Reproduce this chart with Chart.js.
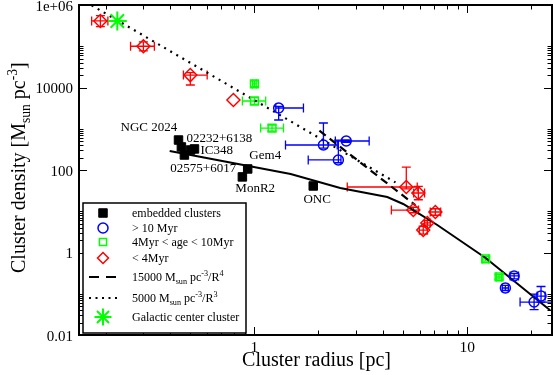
<!DOCTYPE html>
<html>
<head>
<meta charset="utf-8">
<script src="https://cdn.jsdelivr.net/npm/chart.js@4.4.1/dist/chart.umd.min.js"></script>
<style>
  html, body { margin: 0; padding: 0; background: #fff; }
  #wrap { width: 553px; height: 375px; }
</style>
</head>
<body>
<div id="wrap"><canvas id="c" width="553" height="375"></canvas></div>
<script>
// embedded clusters
const embR = [0.44, 0.454, 0.469, 0.501, 0.523, 0.93, 0.878, 1.89];
const embRho = [533, 362, 231, 305, 324, 106, 68, 41];

// > 10 Myr
const oldR = [1.30, 2.11, 2.70, 2.48, 16.6, 15.1, 22.2, 20.6];
const oldRho = [3180, 404, 505, 175, 0.27, 0.138, 0.088, 0.063];
const oldRLo = [1.26, 1.40, 2.40, 1.79, 15.9, 14.6, 21.3, 17.7];
const oldRHi = [1.70, 2.45, 3.46, 2.55, 17.4, 15.6, 23.2, 25];
const oldRhoLo = [1630, 340, 470, 150, 0.23, 0.12, 0.063, 0.041];
const oldRhoHi = [3500, 1380, 540, 530, 0.31, 0.16, 0.15, 0.098];

// 4 Myr < age < 10 Myr
const midR = [1.0, 1.0, 1.21, 12.2, 14.1];
const midRho = [12200, 4710, 1040, 0.70, 0.255];
const midRLo = [0.98, 0.878, 1.07, 11.8, 13.7];
const midRHi = [1.02, 1.13, 1.37, 12.6, 14.5];
const midRhoLo = [10500, 3900, 880, 0.62, 0.225];
const midRhoHi = [14500, 5700, 1230, 0.80, 0.29];

// < 4 Myr
const youngR = [0.189, 0.301, 0.50, 0.797, 5.17, 5.89, 5.58, 7.08, 6.49, 6.21];
const youngRho = [4.1e5, 1.0e5, 2.0e4, 4980, 38.7, 27.7, 10.7, 9.6, 5.2, 3.5];
const youngRLo = [0.172, 0.262, 0.464, null, 2.73, 5.6, 4.4, 6.7, 6.3, 5.95];
const youngRHi = [0.205, 0.339, 0.60, null, 5.82, 6.3, 5.9, 7.5, 6.7, 6.5];
const youngRhoLo = [3.0e5, 7.7e4, 1.15e4, null, 35, 19, 9.2, 8.0, 4.6, 2.8];
const youngRhoHi = [5.5e5, 1.27e5, 2.3e4, null, 118, 40, 12.5, 11.5, 5.9, 4.3];

// galactic center cluster
const gcR = [0.227];
const gcRho = [4.1e5];

// curves
const fitR = [0.40, 1.48, 2.53, 4.21, 5.0, 5.58, 7.23, 12.2, 24.5];
const fitRho = [289, 80, 36.6, 22.1, 15, 10.7, 4.64, 0.736, 0.040];
const r4R = [2.02, 5.7];
const r4Rho = [900, 14];
const r3R = [0.172, 4.6];
const r3Rho = [9.8e5, 50];

// cluster names
const nameText = ['NGC 2024', '02232+6138', 'IC348', '02575+6017', 'Gem4', 'MonR2', 'ONC'];
const nameR = [0.235, 0.48, 0.558, 0.403, 0.947, 0.814, 1.70];
const nameRho = [880, 478, 244, 89.5, 185, 29.3, 15.8];

// axis ticks
const xMajor = [1, 10];
const xMinor = [0.2, 0.3, 0.4, 0.5, 0.6, 0.7, 0.8, 0.9, 2, 3, 4, 5, 6, 7, 8, 9, 20];
const yMajor = [0.01, 1, 100, 10000, 1e6];
const yMinor = [0.02, 0.03, 0.04, 0.05, 0.06, 0.07, 0.08, 0.09, 0.1,
                2, 3, 4, 5, 6, 7, 8, 9, 10,
                200, 300, 400, 500, 600, 700, 800, 900, 1000,
                2e4, 3e4, 4e4, 5e4, 6e4, 7e4, 8e4, 9e4, 1e5];
const yLabels = ['0.01', '1', '100', '10000', '1e+06'];

const SERIF = '"Liberation Serif", "DejaVu Serif", serif';
const RED = '#ff0000', BLUE = '#0000ff', GREEN = '#00ff00';

const pts = (xs, ys) => xs.map((v, i) => ({ x: v, y: ys[i] }));

// rich text: parts [{t, s}] where s = 'sub' | 'sup' | undefined
function drawRich(ctx, parts, x, y, size) {
    let cx = x;
    parts.forEach(p => {
        const small = p.s ? size * 0.68 : size;
        const dy = p.s === 'sub' ? size * 0.25 : p.s === 'sup' ? -size * 0.42 : 0;
        ctx.font = `${small}px ${SERIF}`;
        ctx.fillText(p.t, cx, y + dy);
        cx += ctx.measureText(p.t).width;
    });
    return cx - x;
}
function richWidth(ctx, parts, size) {
    let w = 0;
    parts.forEach(p => {
        ctx.font = `${p.s ? size * 0.68 : size}px ${SERIF}`;
        w += ctx.measureText(p.t).width;
    });
    return w;
}

const errorBars = {
    id: 'errorBars',
    beforeDatasetsDraw(chart) {
        const { ctx, chartArea: a, scales: { x, y } } = chart;
        ctx.save();
        ctx.beginPath();
        ctx.rect(a.left, a.top, a.width, a.height);
        ctx.clip();
        chart.data.datasets.forEach(ds => {
            if (!ds.errors) return;
            const e = ds.errors;
            ctx.strokeStyle = ds.borderColor;
            ctx.lineWidth = 1.3;
            const cap = 4.5;
            ds.data.forEach((d, i) => {
                const px = x.getPixelForValue(d.x), py = y.getPixelForValue(d.y);
                ctx.beginPath();
                if (e.xLo[i] != null) {
                    const l = x.getPixelForValue(e.xLo[i]), r = x.getPixelForValue(e.xHi[i]);
                    ctx.moveTo(l, py); ctx.lineTo(r, py);
                    ctx.moveTo(l, py - cap); ctx.lineTo(l, py + cap);
                    ctx.moveTo(r, py - cap); ctx.lineTo(r, py + cap);
                }
                if (e.yLo[i] != null) {
                    const b = y.getPixelForValue(e.yLo[i]), t = y.getPixelForValue(e.yHi[i]);
                    ctx.moveTo(px, b); ctx.lineTo(px, t);
                    ctx.moveTo(px - cap, b); ctx.lineTo(px + cap, b);
                    ctx.moveTo(px - cap, t); ctx.lineTo(px + cap, t);
                }
                ctx.stroke();
            });
        });
        ctx.restore();
    }
};

const frame = {
    id: 'frame',
    afterDatasetsDraw(chart) {
        const { ctx, chartArea: a, scales: { x, y } } = chart;
        ctx.save();
        ctx.strokeStyle = '#000';
        ctx.lineWidth = 1;
        const seg = (x1, y1, x2, y2) => { ctx.beginPath(); ctx.moveTo(x1, y1); ctx.lineTo(x2, y2); ctx.stroke(); };
        const xt = (v, len) => {
            const p = Math.round(x.getPixelForValue(v)) + 0.5;
            seg(p, a.bottom, p, a.bottom - len);
            seg(p, a.top, p, a.top + len);
        };
        const yt = (v, len) => {
            const p = Math.round(y.getPixelForValue(v)) + 0.5;
            seg(a.left, p, a.left + len, p);
            seg(a.right, p, a.right - len, p);
        };
        xMajor.forEach(v => xt(v, 8));
        xMinor.forEach(v => xt(v, 4.5));
        yMajor.forEach(v => yt(v, 8));
        yMinor.forEach(v => yt(v, 4.5));
        ctx.lineWidth = 2;
        ctx.strokeRect(a.left, a.top, a.width, a.height);

        // cluster names
        ctx.fillStyle = '#000';
        ctx.font = `13px ${SERIF}`;
        ctx.textBaseline = 'alphabetic';
        nameText.forEach((t, i) => {
            ctx.fillText(t, x.getPixelForValue(nameR[i]), y.getPixelForValue(nameRho[i]));
        });

        // axis titles
        const xt1 = [{ t: 'Cluster radius [pc]' }];
        ctx.textAlign = 'left';
        const wx = richWidth(ctx, xt1, 20);
        drawRich(ctx, xt1, (a.left + a.right) / 2 - wx / 2 + 1, 366, 20);

        const yt1 = [{ t: 'Cluster density [M' }, { t: 'sun', s: 'sub' }, { t: ' pc' }, { t: '-3', s: 'sup' }, { t: ']' }];
        ctx.save();
        ctx.translate(25, 273);
        ctx.rotate(-Math.PI / 2);
        drawRich(ctx, yt1, 0, 0, 20);
        ctx.restore();
        ctx.restore();
    },
    afterDraw(chart) {
        const { ctx } = chart;
        ctx.save();
        // legend box
        const L = 83, T = 203, R = 246, B = 333;
        ctx.fillStyle = '#fff';
        ctx.fillRect(L, T, R - L, B - T);
        ctx.strokeStyle = '#000';
        ctx.lineWidth = 1.5;
        ctx.strokeRect(L, T, R - L, B - T);

        const sx = 103, tx = 132;
        const rows = [213, 228, 242, 258, 277, 298, 317];
        const H = Chart.helpers;
        const mark = (style, r, stroke, fill, yy, bw) => {
            ctx.strokeStyle = stroke;
            ctx.fillStyle = fill;
            ctx.lineWidth = bw;
            H.drawPoint(ctx, { pointStyle: style, radius: r, rotation: 0, borderWidth: bw }, sx, yy);
        };
        mark('rect', 6, '#000', '#000', rows[0], 1);
        mark('circle', 5, BLUE, 'rgba(0,0,0,0)', rows[1], 1.5);
        mark('rect', 5, GREEN, 'rgba(0,0,0,0)', rows[2], 1.5);
        mark('rectRot', 5.5, RED, 'rgba(0,0,0,0)', rows[3], 1.5);
        mark('star', 8.5, GREEN, 'rgba(0,0,0,0)', rows[6], 2);

        ctx.strokeStyle = '#000';
        ctx.lineWidth = 2;
        ctx.setLineDash([10, 7]);
        ctx.beginPath(); ctx.moveTo(89, rows[4]); ctx.lineTo(118, rows[4]); ctx.stroke();
        ctx.setLineDash([2, 4.5]);
        ctx.beginPath(); ctx.moveTo(89, rows[5]); ctx.lineTo(118, rows[5]); ctx.stroke();
        ctx.setLineDash([]);

        ctx.fillStyle = '#000';
        ctx.textAlign = 'left';
        ctx.textBaseline = 'alphabetic';
        const texts = [
            [{ t: 'embedded clusters' }],
            [{ t: '> 10 Myr' }],
            [{ t: '4Myr < age < 10Myr' }],
            [{ t: '< 4Myr' }],
            [{ t: '15000 M' }, { t: 'sun', s: 'sub' }, { t: ' pc' }, { t: '-3', s: 'sup' }, { t: '/R' }, { t: '4', s: 'sup' }],
            [{ t: '5000 M' }, { t: 'sun', s: 'sub' }, { t: ' pc' }, { t: '-3', s: 'sup' }, { t: '/R' }, { t: '3', s: 'sup' }],
            [{ t: 'Galactic center cluster' }]
        ];
        texts.forEach((parts, i) => drawRich(ctx, parts, tx, rows[i] + 4, 12));
        ctx.restore();
    }
};

new Chart(document.getElementById('c'), {
    type: 'scatter',
    data: {
        datasets: [
            { label: 'embedded clusters', data: pts(embR, embRho), pointStyle: 'rect', radius: 6,
              backgroundColor: '#000', borderColor: '#000', borderWidth: 1 },
            { label: '> 10 Myr', data: pts(oldR, oldRho), pointStyle: 'circle', radius: 5,
              backgroundColor: 'rgba(0,0,0,0)', borderColor: BLUE, borderWidth: 1.5,
              errors: { xLo: oldRLo, xHi: oldRHi, yLo: oldRhoLo, yHi: oldRhoHi } },
            { label: '4Myr < age < 10Myr', data: pts(midR, midRho), pointStyle: 'rect', radius: 5.5,
              backgroundColor: 'rgba(0,0,0,0)', borderColor: GREEN, borderWidth: 1.5,
              errors: { xLo: midRLo, xHi: midRHi, yLo: midRhoLo, yHi: midRhoHi } },
            { label: '< 4Myr', data: pts(youngR, youngRho), pointStyle: 'rectRot', radius: 6.5,
              backgroundColor: 'rgba(0,0,0,0)', borderColor: RED, borderWidth: 1.5,
              errors: { xLo: youngRLo, xHi: youngRHi, yLo: youngRhoLo, yHi: youngRhoHi } },
            { label: 'Galactic center cluster', data: pts(gcR, gcRho), pointStyle: 'star', radius: 9.5,
              backgroundColor: 'rgba(0,0,0,0)', borderColor: GREEN, borderWidth: 2 },
            { label: 'fit', data: pts(fitR, fitRho), showLine: true, pointRadius: 0,
              borderColor: '#000', borderWidth: 2 },
            { label: 'R^-4', data: pts(r4R, r4Rho), showLine: true, pointRadius: 0,
              borderColor: '#000', borderWidth: 2.2, borderDash: [8, 5] },
            { label: 'R^-3', data: pts(r3R, r3Rho), showLine: true, pointRadius: 0,
              borderColor: '#000', borderWidth: 2.2, borderDash: [2, 5] }
        ]
    },
    options: {
        responsive: false,
        animation: false,
        devicePixelRatio: 1,
        layout: { autoPadding: false, padding: { top: 5, right: 1, left: 0, bottom: 0 } },
        plugins: { legend: { display: false }, tooltip: { enabled: false } },
        scales: {
            x: {
                type: 'logarithmic', min: 0.15, max: 25,
                grid: { display: false, drawTicks: false }, border: { display: false },
                ticks: { color: '#000', font: { family: SERIF, size: 15.5 }, padding: 4,
                         autoSkip: false, maxRotation: 0, callback: v => String(v) },
                afterBuildTicks: s => { s.ticks = xMajor.map(v => ({ value: v })); },
                afterFit: s => { s.height = 40; s.paddingLeft = 0; s.paddingRight = 0; }
            },
            y: {
                type: 'logarithmic', min: 0.01, max: 1e6,
                grid: { display: false, drawTicks: false }, border: { display: false },
                ticks: { color: '#000', font: { family: SERIF, size: 15 }, padding: 6, labelOffset: 2,
                         autoSkip: false, callback: v => yLabels[yMajor.indexOf(v)] },
                afterBuildTicks: s => { s.ticks = yMajor.map(v => ({ value: v })); },
                afterFit: s => { s.width = 79; s.paddingTop = 0; s.paddingBottom = 0; }
            }
        }
    },
    plugins: [errorBars, frame]
});
</script>
</body>
</html>
